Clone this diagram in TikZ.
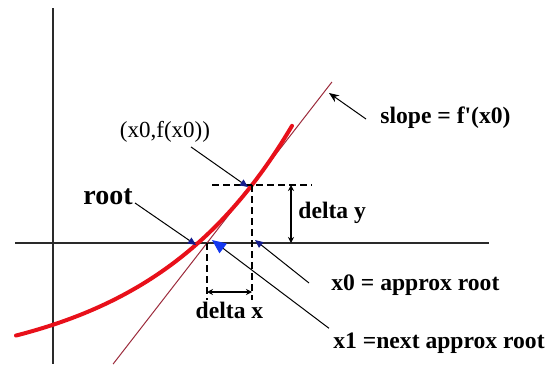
\documentclass[tikz,border=0pt]{standalone}
\usepackage{fontspec}
\setmainfont{Liberation Serif}
\usetikzlibrary{arrows.meta,positioning,calc}
\definecolor{curvered}{HTML}{E8101A}
\definecolor{tangentred}{HTML}{9C2B3C}
\definecolor{tipnavy}{HTML}{141C8C}
\definecolor{tipblue}{HTML}{1438F0}
\definecolor{axisgray}{HTML}{2A2A2A}
\tikzset{
  axisline/.style={draw=axisgray, line width=0.8pt},
  guide/.style={draw=black, dash pattern=on 3.5pt off 2pt, line width=0.6pt},
  pointer/.style={draw=black, line width=0.5pt, -{Triangle[length=4pt,width=3.5pt,color=tipnavy]}},
  span/.style={draw=black, line width=0.6pt, {Stealth[length=3pt,width=3pt]}-{Stealth[length=3pt,width=3pt]}},
  lbl/.style={font=\bfseries\fontsize{11.8}{14}\selectfont, inner sep=1pt},
}

\begin{document}
\begin{tikzpicture}[x=0.5pt, y=-0.5pt]
      \useasboundingbox (0,0) rectangle (551,364);
      % axes
      \draw[axisline] (53,8) -- (53,364);
      \draw[axisline] (15,243) -- (489,243);

      \coordinate (p0) at (252,185);
      \coordinate (x0) at (252,243);
      \coordinate (x1) at (207,243);
      \coordinate (rt) at (198,243);

      % tangent at x0
      \draw[tangentred, line width=0.5pt] ($(x1)!-2.086!(p0)$) coordinate (tbot) -- ($(x1)!2.776!(p0)$) coordinate (ttop);

      % f(x)
      \draw[curvered, line width=2pt, line cap=round] plot[domain=-182:94, samples=70]
        ({198+\x}, {243-130*(exp(0.00683*\x)-1)});

      % guides
      \draw[guide] (212,185) -- (312,185);
      \draw[guide] (p0) -- (252,300) coordinate (x0low);
      \draw[guide] (x1) -- (207,300) coordinate (x1low);

      % delta x / delta y
      \draw[span] (207,292) coordinate (dxa) -- (252,292) coordinate (dxb);
      \node[lbl, below=4pt of $(dxa)!0.5!(dxb)$] (dxlbl) {delta x};
      \draw[span] (291,185) coordinate (dya) -- (291,243) coordinate (dyb);
      \node[lbl, anchor=west] (dylbl) at (296,213) {delta y};

      % labels
      \node[lbl, anchor=west] (slope) at (378,118) {slope = f\textquotesingle(x0)};
      \draw[black, line width=0.5pt, -{Stealth[length=5pt,width=4pt]}] ([xshift=-6pt,yshift=-0.5pt]slope.west) -- (329,93);

      \node[font=\fontsize{11.5}{13}\selectfont, inner sep=1pt] (ptlbl) at (165,132) {(x0,f(x0))};
      \draw[pointer] ([xshift=13pt,yshift=-1pt]ptlbl.south) -- ([shift={(-2pt,-1pt)}]p0);

      \node[font=\bfseries\fontsize{14}{16}\selectfont, inner sep=1pt] (rootlbl) at (108,197) {root};
      \draw[pointer] ([yshift=-3pt]rootlbl.east) -- ([shift={(-1pt,-1pt)}]rt);

      \node[lbl, anchor=west] (x0lbl) at (329,285) {x0 = approx root};
      \draw[pointer] ([xshift=-10pt,yshift=1pt]x0lbl.west) -- ([shift={(1.5pt,1.5pt)}]x0);

      \node[lbl, anchor=west] (x1lbl) at (331,343) {x1 =next approx root};
      \draw[black, line width=0.5pt, -{Triangle[length=7pt,width=6pt,color=tipblue]}] ([xshift=-1pt,yshift=1pt]x1lbl.north west) -- ([shift={(2.5pt,1.5pt)}]x1);
    \end{tikzpicture}
\end{document}
